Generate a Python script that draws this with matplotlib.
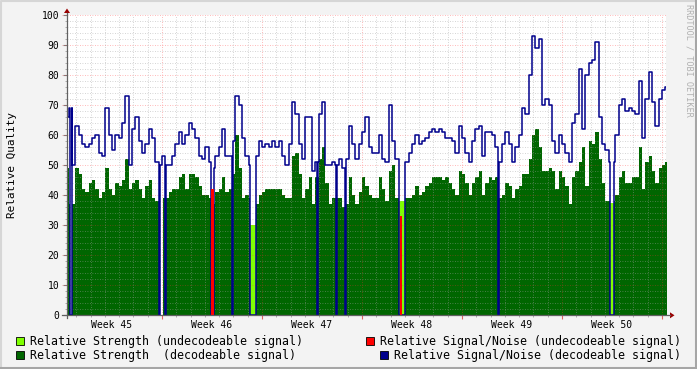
import numpy as np
import matplotlib
matplotlib.use("Agg")
import matplotlib.pyplot as plt
from matplotlib.patches import Rectangle, Polygon
from matplotlib.lines import Line2D

W, H = 697, 369
MONO = "DejaVu Sans Mono"

# x axis is in days since the start of week 45
week_labels = ["Week 45", "Week 46", "Week 47", "Week 48", "Week 49", "Week 50"]
sample_days = 7 / 30  # one sample every 5.6 hours

# relative strength, decodeable signal (one list per week)
strength_w45 = [49, 49, 37, 37, 49, 47, 42, 41, 44, 45, 42, 39, 41, 49, 42,
                40, 44, 43, 45, 52, 42, 44, 45, 42, 39, 43, 45, 39, 38, 39]
strength_w46 = [39, 39, 41, 42, 42, 46, 47, 42, 47, 47, 46, 43, 40, 40, 39,
                37, 41, 42, 46, 41, 42, 47, 60, 49, 39, 40, 39, 39, 37, 40]
strength_w47 = [41, 42, 42, 42, 42, 42, 40, 39, 39, 53, 54, 47, 39, 42, 46,
                37, 46, 52, 56, 44, 37, 39, 39, 39, 36, 37, 46, 40, 37, 41]
strength_w48 = [46, 43, 40, 39, 39, 46, 42, 38, 48, 50, 39, 39, 39, 39, 39,
                40, 43, 40, 41, 43, 44, 46, 46, 46, 45, 46, 44, 42, 40, 48]
strength_w49 = [47, 44, 40, 44, 46, 48, 40, 44, 46, 45, 46, 39, 40, 44, 43,
                39, 42, 43, 47, 47, 52, 60, 62, 56, 48, 48, 49, 48, 42, 48]
strength_w50 = [46, 43, 37, 46, 48, 51, 56, 43, 58, 57, 61, 52, 44, 38, 38,
                38, 40, 46, 48, 44, 44, 46, 46, 56, 42, 51, 53, 48, 44, 49, 50, 51]

# relative signal/noise, decodeable signal
snr_w45 = [64, 66, 69, 50, 63, 60, 57, 56, 57, 59, 60, 54, 53, 69, 60,
           55, 60, 59, 64, 73, 50, 62, 66, 58, 54, 57, 62, 59, 51, 50]
snr_w46 = [53, 50, 50, 53, 57, 61, 57, 60, 64, 62, 59, 53, 52, 56, 51,
           49, 53, 56, 62, 53, 53, 58, 73, 70, 59, 53, 50, 50, 53, 58]
snr_w47 = [56, 57, 56, 58, 56, 58, 53, 50, 57, 71, 67, 57, 52, 66, 66,
           48, 51, 67, 71, 50, 50, 51, 50, 52, 49, 52, 63, 57, 52, 57]
snr_w48 = [61, 66, 56, 54, 54, 60, 52, 51, 70, 58, 52, 49, 49, 51, 54,
           57, 60, 57, 58, 59, 61, 62, 61, 62, 61, 59, 59, 58, 54, 63]
snr_w49 = [59, 54, 51, 58, 62, 63, 53, 61, 61, 60, 56, 51, 57, 61, 57,
           51, 56, 60, 69, 67, 80, 93, 89, 92, 70, 72, 70, 58, 54, 60]
snr_w50 = [57, 54, 51, 64, 67, 82, 62, 80, 84, 85, 91, 66, 57, 55, 51,
           51, 60, 70, 72, 68, 69, 68, 67, 78, 59, 72, 81, 71, 63, 72, 75, 76]

strength = strength_w45 + strength_w46 + strength_w47 + strength_w48 + strength_w49 + strength_w50
snr = snr_w45 + snr_w46 + snr_w47 + snr_w48 + snr_w49 + snr_w50

# short outages (days) where everything falls to zero
drop_days = [0.58, 6.77, 7.19, 11.9, 17.85, 19.18, 19.79, 30.5]
drop_width = 0.1
strength_gaps = [(6.86, 7.04)]
# undecodeable periods
bad_spans = [(10.45, 10.62), (13.18, 13.56), (23.57, 23.99), (38.34, 38.66)]
bad_strength = [0, 30, 38, 37.5]
bad_snr_spans = [(10.45, 10.62), (23.64, 23.80)]
bad_snr = [42, 33]


def steps(vals, zero_spans):
    edges = np.arange(len(vals) + 1) * sample_days
    bp = np.unique(np.concatenate([edges, np.ravel(zero_spans)]))
    mid = (bp[:-1] + bp[1:]) / 2
    idx = np.minimum((mid // sample_days).astype(int), len(vals) - 1)
    y = np.asarray(vals, float)[idx]
    for a, b in zero_spans:
        y[(mid > a) & (mid < b)] = 0
    return np.repeat(bp, 2)[1:-1], np.repeat(y, 2)


drops = [(d, d + drop_width) for d in drop_days]

fig = plt.figure(figsize=(W / 100, H / 100), dpi=100, facecolor="#f3f3f3")
ax = fig.add_axes([67 / W, 1 - 315.3 / H, 599 / W, 300 / H])
ax.set_facecolor("white")
x0, x1 = 0.35, 42.28
ax.set_xlim(x0, x1)
ax.set_ylim(0, 100)
for s in ax.spines.values():
    s.set_visible(False)

# areas and line
xs, ys = steps(strength, drops + strength_gaps + bad_spans)
ax.fill_between(xs, 0, ys, color="#006600", lw=0, zorder=1)
for (a, b), v in zip(bad_spans, bad_strength):
    if v:
        ax.fill_between([a, b], 0, v, color="#7fff00", lw=0, zorder=1.2)

xs, ys = steps(snr, drops + bad_spans)
ax.plot(xs, ys, color="#00008c", lw=1.1, zorder=3)
for (a, b), v in zip(bad_snr_spans, bad_snr):
    ax.fill_between([a, b], 0, v, color="#ff0000", lw=0, zorder=3.5)

# grid (drawn over the areas, rrdtool style)
dots = (0, (1, 2))
minor_y = [v for v in range(2, 100, 2) if v % 10]
major_y = list(range(10, 101, 10))
ax.hlines(minor_y, x0, x1, colors="#a0a0a0", alpha=0.6, linestyles=dots, lw=0.6, zorder=2)
ax.hlines(major_y, 0, x1, colors="#ff3030", alpha=0.45, linestyles=dots, lw=0.6,
          zorder=2, clip_on=False)
days = [d for d in range(1, 43) if d % 7]
weeks = list(range(7, 43, 7))
ax.vlines(days, 0, 100, colors="#a0a0a0", alpha=0.6, linestyles=dots, lw=0.6, zorder=2)
ax.vlines(weeks, 0, 100, colors="#ff3030", alpha=0.45, linestyles=dots, lw=0.6, zorder=2)
ax.vlines(weeks, -1.2, 0, colors="#e06060", lw=0.8, clip_on=False)

# ticks
ax.set_yticks(range(0, 101, 10))
ax.set_yticks(range(0, 101, 2), minor=True)
ax.set_xticks([3.5 + 7 * i for i in range(6)], week_labels)
ax.set_xticks(days, minor=True)
ax.tick_params(axis="y", which="major", length=3, width=0.8, color="#808080", pad=2.6,
               labelsize=7)
ax.tick_params(axis="y", which="minor", length=1.5, width=0.6, color="#a0a0a0")
ax.tick_params(axis="x", which="major", length=0, pad=3.6, labelsize=7)
ax.tick_params(axis="x", which="minor", length=1.5, width=0.6, color="#a0a0a0")
for lab in ax.get_xticklabels() + ax.get_yticklabels():
    lab.set_family(MONO)


def P(x, y):
    return (x / W, 1 - y / H)


def fig_line(pts, color, lw):
    fx, fy = zip(*[P(*p) for p in pts])
    fig.add_artist(Line2D(fx, fy, color=color, lw=lw, transform=fig.transFigure))


# axes lines and arrows
fig_line([(67, 318), (67, 13)], "#606060", 0.9)
fig_line([(62, 315.3), (670, 315.3)], "#606060", 0.9)
fig.add_artist(Polygon([P(64, 13), P(70, 13), P(67, 8.5)], closed=True,
                       facecolor="#990000", edgecolor="none", transform=fig.transFigure))
fig.add_artist(Polygon([P(670, 312.3), P(670, 318.3), P(674.5, 315.3)], closed=True,
                       facecolor="#990000", edgecolor="none", transform=fig.transFigure))

# 3d frame
fig_line([(0.5, 368), (0.5, 0.5), (696, 0.5)], "#d6d6d6", 1.5)
fig_line([(1, 367.5), (695.8, 367.5), (695.8, 1)], "#a6a6a6", 2.2)

# labels
fig.text(12 / W, 1 - 165 / H, "Relative Quality", rotation=90, ha="center", va="center",
         family=MONO, fontsize=7.9)
fig.text(688.5 / W, 1 - 4 / H, "RRDTOOL / TOBI OETIKER", rotation=270, ha="center", va="top",
         family=MONO, fontsize=6.1, color="#b0b0b0")

# legend
legend_items = [
    ("#7fff00", "Relative Strength (undecodeable signal)", 15.5, 30, 341),
    ("#006600", "Relative Strength  (decodeable signal)", 15.5, 30, 355),
    ("#ff0000", "Relative Signal/Noise (undecodeable signal)", 365.5, 380, 341),
    ("#00008c", "Relative Signal/Noise (decodeable signal)", 379.5, 394, 355),
]
for color, text, bx, tx, cy in legend_items:
    fig.add_artist(Rectangle(P(bx, cy + 4), 8 / W, 8 / H, facecolor=color, edgecolor="black",
                             lw=0.6, transform=fig.transFigure))
    fig.text(tx / W, 1 - cy / H, text, ha="left", va="center", family=MONO, fontsize=8.35)

fig.savefig("out.png", dpi=100, facecolor=fig.get_facecolor())
